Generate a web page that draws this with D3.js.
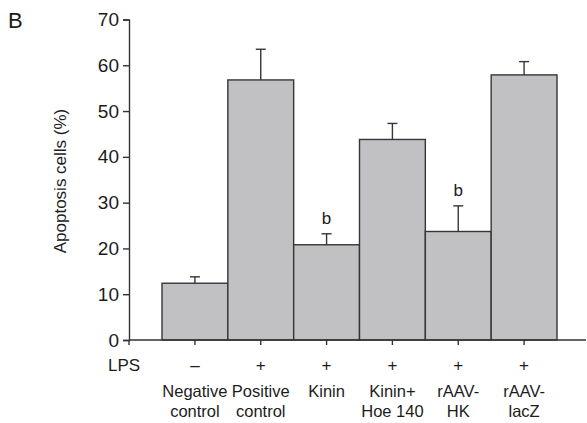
<!DOCTYPE html>
<html>
<head>
<meta charset="utf-8">
<script src="https://cdn.jsdelivr.net/npm/d3@7"></script>
<style>
  body { margin: 0; background: #fff; }
  text { font-family: "Liberation Sans", Arial, sans-serif; fill: #1c1c1c; }
</style>
</head>
<body>
<script>
// data
var groups = ["neg", "pos", "kinin", "hoe", "hk", "lacz"];
var lpsSigns = ["\u2013", "+", "+", "+", "+", "+"];
var labelLine1 = ["Negative", "Positive", "Kinin", "Kinin+", "rAAV-", "rAAV-"];
var labelLine2 = ["control", "control", "", "Hoe 140", "HK", "lacZ"];
var means = [12.4, 56.8, 20.8, 43.8, 23.7, 57.9];
var errors = [1.4, 6.7, 2.4, 3.5, 5.6, 2.9];
var marks = ["", "", "b", "", "b", ""];
var yTicks = [0, 10, 20, 30, 40, 50, 60, 70];

var width = 587, height = 423;

var svg = d3.select("body").append("svg")
    .attr("width", width).attr("height", height);

var x = d3.scaleBand().domain(groups).range([162, 557]).padding(0);
var y = d3.scaleLinear().domain([0, 70]).range([340, 19.5]);

var axisX0 = 129, axisX1 = 586;

// y axis
var yAxis = svg.append("g")
    .attr("transform", "translate(" + axisX0 + ",0)")
    .call(d3.axisLeft(y).tickValues(yTicks).tickSize(6).tickPadding(4));
yAxis.attr("font-size", 19);
yAxis.select(".domain").attr("stroke", "#333").attr("stroke-width", 1.4);
yAxis.selectAll(".tick line").attr("stroke", "#333").attr("stroke-width", 1.4);
yAxis.selectAll(".tick text")
    .attr("fill", "#1c1c1c")
    .attr("font-family", "Liberation Sans, Arial, sans-serif");

// bars
svg.selectAll("rect.bar")
    .data(groups)
    .enter()
    .append("rect")
    .attr("class", "bar")
    .attr("x", function (d) { return x(d); })
    .attr("width", x.bandwidth())
    .attr("y", function (d, i) { return y(means[i]); })
    .attr("height", function (d, i) { return y(0) - y(means[i]); })
    .attr("fill", "#c1c1c3")
    .attr("stroke", "#363636")
    .attr("stroke-width", 1.4);

// error bars
var err = svg.selectAll("g.err")
    .data(groups)
    .enter()
    .append("g")
    .attr("class", "err");

err.append("line")
    .attr("x1", function (d) { return x(d) + x.bandwidth() / 2; })
    .attr("x2", function (d) { return x(d) + x.bandwidth() / 2; })
    .attr("y1", function (d, i) { return y(means[i]); })
    .attr("y2", function (d, i) { return y(means[i] + errors[i]); })
    .attr("stroke", "#363636").attr("stroke-width", 1.4);

err.append("line")
    .attr("x1", function (d) { return x(d) + x.bandwidth() / 2 - 5; })
    .attr("x2", function (d) { return x(d) + x.bandwidth() / 2 + 5; })
    .attr("y1", function (d, i) { return y(means[i] + errors[i]); })
    .attr("y2", function (d, i) { return y(means[i] + errors[i]); })
    .attr("stroke", "#363636").attr("stroke-width", 1.4);

// significance marks
svg.selectAll("text.mark")
    .data(groups)
    .enter()
    .append("text")
    .attr("class", "mark")
    .attr("x", function (d) { return x(d) + x.bandwidth() / 2; })
    .attr("y", function (d, i) { return y(means[i] + errors[i]) - 10; })
    .attr("text-anchor", "middle")
    .attr("font-size", "17px")
    .text(function (d, i) { return marks[i]; });

// x axis
svg.append("line")
    .attr("x1", axisX0).attr("x2", axisX1)
    .attr("y1", y(0)).attr("y2", y(0))
    .attr("stroke", "#333").attr("stroke-width", 1.4);

svg.append("line")
    .attr("x1", axisX0).attr("x2", axisX0)
    .attr("y1", y(0)).attr("y2", y(0) + 5)
    .attr("stroke", "#333").attr("stroke-width", 1.4);

svg.selectAll("line.xtick")
    .data(groups)
    .enter()
    .append("line")
    .attr("class", "xtick")
    .attr("x1", function (d) { return x(d) + x.bandwidth() / 2; })
    .attr("x2", function (d) { return x(d) + x.bandwidth() / 2; })
    .attr("y1", y(0)).attr("y2", y(0) + 5)
    .attr("stroke", "#333").attr("stroke-width", 1.4);

// LPS row
svg.append("text")
    .attr("x", 108).attr("y", 371)
    .attr("font-size", "17px")
    .text("LPS");

svg.selectAll("text.lps")
    .data(groups)
    .enter()
    .append("text")
    .attr("class", "lps")
    .attr("x", function (d) { return x(d) + x.bandwidth() / 2; })
    .attr("y", 371)
    .attr("text-anchor", "middle")
    .attr("font-size", "17px")
    .text(function (d, i) { return lpsSigns[i]; });

svg.selectAll("text.lab1")
    .data(groups)
    .enter()
    .append("text")
    .attr("class", "lab1")
    .attr("x", function (d) { return x(d) + x.bandwidth() / 2; })
    .attr("y", 397)
    .attr("text-anchor", "middle")
    .attr("font-size", "16.5px")
    .text(function (d, i) { return labelLine1[i]; });

svg.selectAll("text.lab2")
    .data(groups)
    .enter()
    .append("text")
    .attr("class", "lab2")
    .attr("x", function (d) { return x(d) + x.bandwidth() / 2; })
    .attr("y", 417)
    .attr("text-anchor", "middle")
    .attr("font-size", "16.5px")
    .text(function (d, i) { return labelLine2[i]; });

// y label
svg.append("text")
    .attr("transform", "translate(66,181) rotate(-90)")
    .attr("text-anchor", "middle")
    .attr("font-size", "17px")
    .text("Apoptosis cells (%)");

// panel letter
svg.append("text")
    .attr("x", 8).attr("y", 28)
    .attr("font-size", "22px")
    .text("B");
</script>
</body>
</html>
